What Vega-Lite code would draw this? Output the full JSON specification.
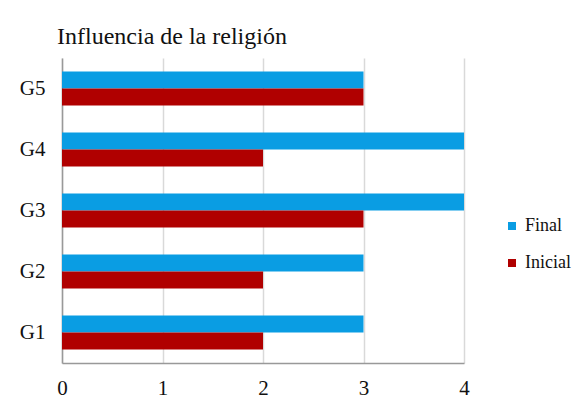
{
  "$schema": "https://vega.github.io/schema/vega-lite/v6.json",
  "width": 402,
  "height": 305,
  "autosize": "none",
  "padding": {"left": 62, "top": 58, "right": 114, "bottom": 54},
  "background": "white",
  "title": {
    "text": "Influencia de la religión",
    "anchor": "start",
    "frame": "group",
    "dx": -5,
    "offset": 9,
    "font": "Times New Roman",
    "fontSize": 24,
    "fontWeight": "normal",
    "color": "#111111"
  },
  "data": {
    "values": [
      {"grupo": "G1", "serie": "Final", "valor": 3},
      {"grupo": "G1", "serie": "Inicial", "valor": 2},
      {"grupo": "G2", "serie": "Final", "valor": 3},
      {"grupo": "G2", "serie": "Inicial", "valor": 2},
      {"grupo": "G3", "serie": "Final", "valor": 4},
      {"grupo": "G3", "serie": "Inicial", "valor": 3},
      {"grupo": "G4", "serie": "Final", "valor": 4},
      {"grupo": "G4", "serie": "Inicial", "valor": 2},
      {"grupo": "G5", "serie": "Final", "valor": 3},
      {"grupo": "G5", "serie": "Inicial", "valor": 3}
    ]
  },
  "mark": {"type": "bar"},
  "encoding": {
    "y": {
      "field": "grupo",
      "type": "nominal",
      "sort": ["G5", "G4", "G3", "G2", "G1"],
      "scale": {"paddingInner": 0.44, "paddingOuter": 0.22},
      "axis": {
        "title": null,
        "ticks": false,
        "labelPadding": 17,
        "labelFont": "Times New Roman",
        "labelFontSize": 21,
        "labelColor": "#111111",
        "domainColor": "#999999",
        "domainWidth": 1.5
      }
    },
    "yOffset": {
      "field": "serie",
      "type": "nominal",
      "sort": ["Final", "Inicial"]
    },
    "x": {
      "field": "valor",
      "type": "quantitative",
      "scale": {"domain": [0, 4], "nice": false},
      "axis": {
        "title": null,
        "tickCount": 4,
        "ticks": false,
        "labelPadding": 14,
        "labelFont": "Times New Roman",
        "labelFontSize": 21,
        "labelColor": "#111111",
        "grid": true,
        "gridColor": "#d9d9d9",
        "gridWidth": 1.5,
        "domainColor": "#999999",
        "domainWidth": 1.5,
        "labelFlush": false
      }
    },
    "color": {
      "field": "serie",
      "type": "nominal",
      "sort": ["Final", "Inicial"],
      "scale": {"domain": ["Final", "Inicial"], "range": ["#0a9de3", "#b00000"]},
      "legend": {
        "title": null,
        "orient": "none",
        "legendX": 441,
        "legendY": 159,
        "symbolType": "square",
        "symbolSize": 64,
        "symbolStrokeWidth": 0,
        "labelFont": "Times New Roman",
        "labelFontSize": 18,
        "labelColor": "#111111",
        "rowPadding": 19,
        "labelOffset": 4
      }
    }
  },
  "config": {
    "view": {"stroke": null},
    "axis": {"gridDash": []},
    "font": "Times New Roman"
  }
}
